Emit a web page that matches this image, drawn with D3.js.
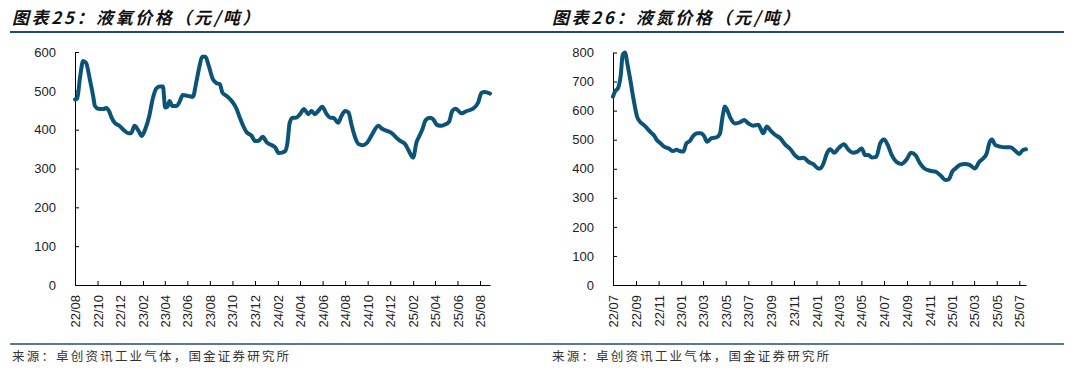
<!DOCTYPE html>
<html lang="zh">

<head>
    <meta charset="UTF-8">
    <title>液氧、液氮价格</title>
    <script src="https://cdn.jsdelivr.net/npm/d3@7"></script>
    <style>
        body { margin: 0; background: #fff; }
        svg { display: block; }
    </style>
</head>

<body>
    <div id="chart"></div>
    <script>
        // 液氧价格（元/吨）
        var oxyDates = ["2022-08-01", "2022-08-07", "2022-08-14", "2022-08-23", "2022-08-31", "2022-09-10", "2022-09-19", "2022-09-24",
            "2022-10-03", "2022-10-17", "2022-10-24", "2022-11-02", "2022-11-08", "2022-11-17", "2022-11-29", "2022-12-10", "2022-12-23",
            "2022-12-31", "2023-01-09", "2023-01-20", "2023-01-29", "2023-02-07", "2023-02-18", "2023-02-27", "2023-03-09", "2023-03-18",
            "2023-03-27", "2023-04-02", "2023-04-08", "2023-04-14", "2023-04-21", "2023-05-03", "2023-05-10", "2023-05-20", "2023-06-02",
            "2023-06-16", "2023-06-25", "2023-07-04", "2023-07-11", "2023-07-20", "2023-07-29", "2023-08-09", "2023-08-19", "2023-08-28",
            "2023-09-04", "2023-09-15", "2023-09-29", "2023-10-12", "2023-10-21", "2023-10-30", "2023-11-08", "2023-11-22", "2023-12-01",
            "2023-12-10", "2023-12-22", "2024-01-02", "2024-01-16", "2024-01-25", "2024-02-03", "2024-02-12", "2024-02-21", "2024-02-27",
            "2024-03-04", "2024-03-12", "2024-03-21", "2024-04-01", "2024-04-12", "2024-04-23", "2024-05-02", "2024-05-11", "2024-05-20",
            "2024-05-31", "2024-06-12", "2024-06-21", "2024-07-01", "2024-07-13", "2024-07-22", "2024-08-01", "2024-08-10", "2024-08-19",
            "2024-08-28", "2024-09-06", "2024-09-18", "2024-09-30", "2024-10-12", "2024-10-30", "2024-11-08", "2024-11-22", "2024-12-05",
            "2024-12-17", "2024-12-28", "2025-01-10", "2025-01-20", "2025-02-01", "2025-02-10", "2025-02-18", "2025-02-26", "2025-03-07",
            "2025-03-18", "2025-03-27", "2025-04-07", "2025-04-19", "2025-04-30", "2025-05-09", "2025-05-18", "2025-05-27", "2025-06-12",
            "2025-06-26", "2025-07-13", "2025-07-27", "2025-08-05", "2025-08-14", "2025-08-28"];
        var oxyValues = [478, 480, 530, 577, 572, 530, 487, 461,
            454, 453, 456, 446, 431, 417, 410, 400, 391,
            391, 410, 397, 384, 401, 435, 478, 506, 511,
            511, 457, 459, 474, 461, 461, 470, 489, 487,
            485, 521, 564, 588, 588, 564, 530, 520, 517,
            495, 487, 474, 454, 431, 410, 394, 384, 371,
            371, 382, 367, 360, 354, 340, 341, 345, 367,
            418, 431, 431, 440, 453, 440, 448, 440, 448,
            459, 440, 431, 430, 418, 435, 448, 444, 410,
            380, 363, 360, 367, 386, 410, 403, 397, 391,
            380, 371, 363, 346, 328, 367, 384, 401, 425,
            431, 427, 412, 410, 414, 420, 448, 454, 442,
            448, 454, 470, 495, 497, 493];
        var oxyTicks = ["22/08", "22/10", "22/12", "23/02", "23/04", "23/06", "23/08", "23/10", "23/12", "24/02",
            "24/04", "24/06", "24/08", "24/10", "24/12", "25/02", "25/04", "25/06", "25/08"];
        var oxyYTicks = [0, 100, 200, 300, 400, 500, 600];

        // 液氮价格（元/吨）
        var nitDates = ["2022-07-01", "2022-07-06", "2022-07-15", "2022-07-22", "2022-07-27", "2022-08-03", "2022-08-07", "2022-08-16",
            "2022-08-25", "2022-09-04", "2022-09-13", "2022-09-22", "2022-10-01", "2022-10-11", "2022-10-20", "2022-10-27", "2022-11-06",
            "2022-11-16", "2022-11-28", "2022-12-10", "2022-12-19", "2022-12-28", "2023-01-07", "2023-01-15", "2023-01-24", "2023-02-03",
            "2023-02-13", "2023-02-23", "2023-03-03", "2023-03-12", "2023-03-24", "2023-04-06", "2023-04-15", "2023-04-23", "2023-04-29",
            "2023-05-05", "2023-05-14", "2023-05-26", "2023-06-09", "2023-06-20", "2023-07-01", "2023-07-14", "2023-07-28", "2023-08-03",
            "2023-08-10", "2023-08-20", "2023-08-29", "2023-09-12", "2023-09-25", "2023-10-08", "2023-10-22", "2023-11-05", "2023-11-16",
            "2023-11-27", "2023-12-10", "2023-12-24", "2024-01-06", "2024-01-11", "2024-01-20", "2024-01-29", "2024-02-07", "2024-02-18",
            "2024-02-29", "2024-03-15", "2024-03-26", "2024-04-09", "2024-04-20", "2024-05-02", "2024-05-11", "2024-05-20", "2024-05-29",
            "2024-06-10", "2024-06-21", "2024-07-01", "2024-07-11", "2024-07-22", "2024-08-03", "2024-08-17", "2024-08-31", "2024-09-12",
            "2024-09-24", "2024-10-05", "2024-10-18", "2024-11-03", "2024-11-17", "2024-12-02", "2024-12-14", "2024-12-23", "2025-01-01",
            "2025-01-10", "2025-01-22", "2025-02-04", "2025-02-17", "2025-03-03", "2025-03-15", "2025-03-26", "2025-04-04", "2025-04-11",
            "2025-04-18", "2025-04-27", "2025-05-10", "2025-05-24", "2025-06-07", "2025-06-20", "2025-07-01", "2025-07-10", "2025-07-19"];
        var nitValues = [648, 665, 679, 723, 791, 800, 774, 711,
            642, 579, 560, 551, 539, 525, 514, 499, 488,
            476, 470, 461, 465, 461, 459, 488, 495, 514,
            522, 522, 514, 493, 505, 508, 519, 583, 614,
            602, 574, 556, 560, 568, 556, 548, 551, 539,
            522, 545, 533, 516, 505, 484, 468, 445, 436,
            438, 424, 415, 401, 401, 419, 453, 467, 455,
            470, 484, 467, 455, 459, 470, 447, 447, 439,
            441, 488, 501, 482, 447, 424, 416, 432, 455,
            447, 421, 401, 393, 390, 375, 361, 364, 390,
            401, 413, 416, 413, 401, 424, 436, 453, 488,
            501, 482, 476, 474, 474, 462, 451, 464, 467];
        var nitTicks = ["22/07", "22/09", "22/11", "23/01", "23/03", "23/05", "23/07", "23/09", "23/11", "24/01",
            "24/03", "24/05", "24/07", "24/09", "24/11", "25/01", "25/03", "25/05", "25/07"];
        var nitYTicks = [0, 100, 200, 300, 400, 500, 600, 700, 800];

        var w = 1080,
            h = 371;
        var lineColor = "#0b5377",
            ruleColor = "#1d4f76";
        var parseDay = d3.timeParse("%Y-%m-%d"),
            parseTick = d3.timeParse("%y/%m");

        var svg = d3.select("#chart").append("svg")
            .attr("width", w)
            .attr("height", h);

        drawPanel({
            left: 10, right: 540, textX: 12,
            title: "图表25：液氧价格（元/吨）",
            dates: oxyDates, values: oxyValues,
            ticks: oxyTicks, yTicks: oxyYTicks,
            x0: 75, x1: 490, yTop: 52
        });
        drawPanel({
            left: 540, right: 1064, textX: 552,
            title: "图表26：液氮价格（元/吨）",
            dates: nitDates, values: nitValues,
            ticks: nitTicks, yTicks: nitYTicks,
            x0: 613, x1: 1026, yTop: 52.5
        });

        function drawPanel(o) {
            var g = svg.append("g");
            var data = o.dates.map(function(d, i) {
                return { date: parseDay(d), value: o.values[i] };
            });
            var tickDates = o.ticks.map(function(t) { return parseTick(t); });

            // 标题 + 分隔线
            g.append("text")
                .attr("x", o.textX)
                .attr("y", 24)
                .attr("font-family", "'Noto Sans CJK SC', sans-serif")
                .attr("font-size", 17)
                .attr("font-weight", "bold")
                .attr("font-style", "italic")
                .attr("letter-spacing", 2.6)
                .attr("fill", "#111")
                .text(o.title);
            g.append("line")
                .attr("x1", o.left).attr("x2", o.right)
                .attr("y1", 32).attr("y2", 32)
                .attr("stroke", ruleColor)
                .attr("stroke-width", 2);
            g.append("line")
                .attr("x1", o.left).attr("x2", o.right)
                .attr("y1", 344).attr("y2", 344)
                .attr("stroke", ruleColor)
                .attr("stroke-width", 1.5);
            g.append("text")
                .attr("x", o.textX)
                .attr("y", 361)
                .attr("font-family", "'Noto Sans CJK SC', sans-serif")
                .attr("font-size", 12.5)
                .attr("letter-spacing", 2.2)
                .attr("fill", "#333")
                .text("来源：卓创资讯工业气体，国金证券研究所");

            var x = d3.scaleTime()
                .domain([tickDates[0], data[data.length - 1].date])
                .range([o.x0, o.x1]);
            var y = d3.scaleLinear()
                .domain([0, o.yTicks[o.yTicks.length - 1]])
                .range([285, o.yTop]);

            var xAxis = g.append("g")
                .attr("transform", "translate(0,285)")
                .call(d3.axisBottom(x).tickValues(tickDates).tickSize(-4).tickSizeOuter(0)
                    .tickFormat(d3.timeFormat("%y/%m")));
            xAxis.selectAll("text")
                .attr("transform", "rotate(-90)")
                .attr("text-anchor", "end")
                .attr("x", -10)
                .attr("y", 0)
                .attr("dy", "0.35em");

            var yAxis = g.append("g")
                .attr("transform", "translate(" + o.x0 + ",0)")
                .call(d3.axisLeft(y).tickValues(o.yTicks).tickSize(-4).tickSizeOuter(0).tickPadding(19));

            [xAxis, yAxis].forEach(function(a) {
                a.selectAll("text")
                    .attr("font-family", "'Liberation Sans', Arial, sans-serif")
                    .attr("font-size", 13)
                    .attr("fill", "#222");
                a.selectAll("line, path").attr("stroke", "#000");
            });

            var line = d3.line()
                .x(function(d) { return x(d.date); })
                .y(function(d) { return y(d.value); })
                .curve(d3.curveMonotoneX);

            g.append("path")
                .datum(data)
                .attr("d", line)
                .attr("fill", "none")
                .attr("stroke", lineColor)
                .attr("stroke-width", 4)
                .attr("stroke-linejoin", "round")
                .attr("stroke-linecap", "round");
        }
    </script>
</body>

</html>
